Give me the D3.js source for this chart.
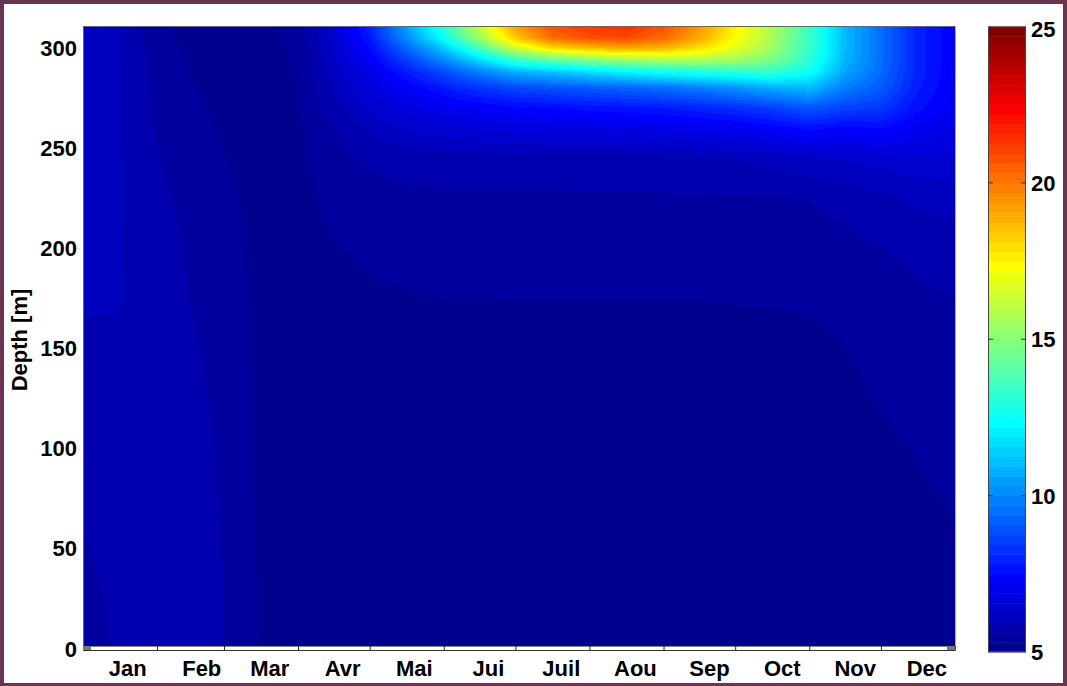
<!DOCTYPE html>
<html>
<head>
<meta charset="utf-8">
<script src="https://cdn.jsdelivr.net/npm/d3@7"></script>
<style>
  html, body { margin: 0; padding: 0; background: #6d3352; }
  svg { display: block; }
  text { font-family: "Liberation Sans", Arial, sans-serif; font-weight: bold; fill: #000; }
</style>
</head>
<body>
<svg width="1067" height="686"></svg>
<script>
// Grid of the temperature field: day of year (columns) x depth (rows, top to bottom)
var days = [0, 15, 31, 45, 59, 75, 90, 105, 120, 135, 151, 166, 181, 196, 212, 228, 243, 258, 273, 288, 304, 319, 334, 349, 365];
var depths = [311, 305, 300, 294, 288, 280, 270, 260, 245, 225, 200, 175, 150, 100, 50, 0];
var temps = [
  [6.2, 5.97, 5.35, 5.2, 5.15, 5.22, 5.4, 6.5, 8.0, 10.5, 13.2, 16.3, 19.2, 20.8, 21.3, 21.5, 20.8, 19.4, 17.6, 15.8, 13.5, 11.0, 9.5, 8.0, 7.2],
  [6.2, 5.97, 5.4, 5.22, 5.16, 5.22, 5.38, 6.4, 7.8, 10.0, 12.5, 15.4, 18.4, 20.2, 20.8, 20.9, 20.3, 19.0, 17.4, 15.7, 13.5, 11.0, 9.5, 8.0, 7.2],
  [6.2, 5.97, 5.45, 5.25, 5.17, 5.21, 5.36, 6.3, 7.5, 9.3, 11.3, 13.8, 16.4, 18.0, 18.7, 19.1, 18.8, 18.0, 16.9, 15.5, 13.4, 11.0, 9.5, 8.0, 7.2],
  [6.2, 5.97, 5.5, 5.28, 5.18, 5.21, 5.34, 6.2, 7.2, 8.5, 10.0, 11.7, 13.4, 14.3, 14.9, 15.5, 15.8, 15.8, 15.5, 14.8, 13.2, 10.9, 9.5, 8.0, 7.2],
  [6.2, 5.97, 5.52, 5.3, 5.2, 5.2, 5.32, 6.1, 6.9, 7.8, 8.8, 9.8, 10.8, 11.2, 11.7, 12.2, 12.6, 12.9, 13.2, 13.3, 12.6, 10.6, 9.4, 8.0, 7.2],
  [6.2, 5.97, 5.55, 5.33, 5.22, 5.2, 5.3, 5.95, 6.6, 7.2, 7.8, 8.3, 8.7, 8.9, 9.1, 9.3, 9.5, 9.8, 10.2, 10.7, 11.0, 9.8, 9.1, 7.9, 7.15],
  [6.2, 5.97, 5.58, 5.38, 5.25, 5.2, 5.28, 5.8, 6.3, 6.7, 7.0, 7.2, 7.4, 7.5, 7.6, 7.7, 7.8, 8.0, 8.2, 8.5, 9.0, 8.6, 8.4, 7.6, 7.05],
  [6.15, 5.97, 5.6, 5.43, 5.28, 5.2, 5.26, 5.62, 6.0, 6.3, 6.5, 6.6, 6.7, 6.75, 6.8, 6.85, 6.9, 7.0, 7.1, 7.3, 7.6, 7.4, 7.5, 7.1, 6.85],
  [6.1, 5.97, 5.64, 5.5, 5.32, 5.2, 5.24, 5.48, 5.68, 5.75, 5.8, 5.82, 5.84, 5.85, 5.86, 5.87, 5.88, 5.9, 5.95, 6.05, 6.2, 6.3, 6.4, 6.5, 6.5],
  [6.05, 5.97, 5.68, 5.56, 5.38, 5.2, 5.22, 5.38, 5.5, 5.55, 5.57, 5.57, 5.57, 5.57, 5.57, 5.57, 5.58, 5.59, 5.6, 5.62, 5.63, 5.73, 5.85, 6.0, 6.05],
  [6.0, 5.97, 5.72, 5.6, 5.45, 5.2, 5.2, 5.3, 5.36, 5.42, 5.45, 5.45, 5.45, 5.45, 5.45, 5.45, 5.45, 5.46, 5.47, 5.48, 5.5, 5.53, 5.62, 5.72, 5.8],
  [5.98, 5.96, 5.75, 5.62, 5.5, 5.2, 5.2, 5.22, 5.27, 5.29, 5.31, 5.31, 5.32, 5.32, 5.32, 5.32, 5.32, 5.32, 5.33, 5.34, 5.36, 5.38, 5.45, 5.55, 5.63],
  [5.85, 5.9, 5.78, 5.66, 5.55, 5.2, 5.2, 5.2, 5.2, 5.18, 5.17, 5.16, 5.16, 5.16, 5.16, 5.16, 5.17, 5.18, 5.19, 5.2, 5.22, 5.31, 5.38, 5.45, 5.5],
  [5.72, 5.8, 5.78, 5.7, 5.6, 5.22, 5.2, 5.2, 5.18, 5.15, 5.15, 5.14, 5.14, 5.14, 5.14, 5.14, 5.14, 5.15, 5.15, 5.15, 5.16, 5.2, 5.27, 5.32, 5.38],
  [5.6, 5.75, 5.76, 5.7, 5.62, 5.25, 5.2, 5.2, 5.18, 5.15, 5.15, 5.14, 5.14, 5.14, 5.14, 5.14, 5.14, 5.15, 5.15, 5.15, 5.15, 5.16, 5.2, 5.24, 5.28],
  [5.45, 5.68, 5.74, 5.68, 5.63, 5.28, 5.22, 5.2, 5.2, 5.18, 5.17, 5.16, 5.16, 5.16, 5.16, 5.16, 5.16, 5.16, 5.16, 5.16, 5.16, 5.16, 5.17, 5.19, 5.21]
];

// Axis labels
var months = ["Jan", "Feb", "Mar", "Avr", "Mai", "Jui", "Juil", "Aou", "Sep", "Oct", "Nov", "Dec"];
var monthLabelDays = [18.5, 49.5, 78, 108.5, 138.5, 169.5, 200, 231, 262, 292.5, 323, 353];
var monthEnds = [31, 59, 90, 120, 151, 181, 212, 243, 273, 304, 334];
var depthTicks = [0, 50, 100, 150, 200, 250, 300];
var tempTicks = [5, 10, 15, 20, 25];

// matlab style jet colormap with m levels
function jet(m) {
  var n = Math.ceil(m / 4), u = [], i;
  for (i = 1; i <= n; i++) u.push(i / n);
  for (i = 1; i < n; i++) u.push(1);
  for (i = n; i >= 1; i--) u.push(i / n);
  var g0 = Math.ceil(n / 2) - (m % 4 === 1 ? 1 : 0);
  var J = d3.range(m).map(function() { return [0, 0, 0]; });
  u.forEach(function(v, k) {
    var g = g0 + k + 1, r = g + n, b = g - n;
    if (g >= 1 && g <= m) J[g - 1][1] = v;
    if (r >= 1 && r <= m) J[r - 1][0] = v;
    if (b >= 1 && b <= m) J[b - 1][2] = v;
  });
  return J.map(function(c) { return d3.rgb(c[0] * 255, c[1] * 255, c[2] * 255).toString(); });
}

function main() {
  var svg = d3.select("svg");

  // white page inside the maroon frame
  svg.append("rect").attr("x", 4).attr("y", 4).attr("width", 1059).attr("height", 679).attr("fill", "#fff");

  var left = 83, right = 955, top = 26, imgBottom = 646, axisY = 650;

  var xScale = d3.scaleLinear().domain([0, 365]).range([left, right]);
  var yScale = d3.scaleLinear().domain([0, 311]).range([649, top]);
  var colorScale = d3.scaleQuantize().domain([5, 25]).range(jet(64));

  // ascending copies for the lookup
  var depthAsc = depths.slice().reverse();
  var tempAsc = temps.slice().reverse();

  function locate(arr, v) {
    var i = d3.bisectRight(arr, v) - 1;
    i = Math.max(0, Math.min(arr.length - 2, i));
    var f = (v - arr[i]) / (arr[i + 1] - arr[i]);
    return [i, Math.max(0, Math.min(1, f))];
  }

  function tempAt(day, depth) {
    var a = locate(days, day), b = locate(depthAsc, depth);
    var r0 = tempAsc[b[0]], r1 = tempAsc[b[0] + 1];
    var t0 = r0[a[0]] + (r0[a[0] + 1] - r0[a[0]]) * a[1];
    var t1 = r1[a[0]] + (r1[a[0] + 1] - r1[a[0]]) * a[1];
    return t0 + (t1 - t0) * b[1];
  }

  // Paint the field into a canvas, one pixel at a time through the scales
  var w = right - left, h = imgBottom - top;
  var canvas = document.createElement("canvas");
  canvas.width = w; canvas.height = h;
  var ctx = canvas.getContext("2d");
  var img = ctx.createImageData(w, h);
  for (var py = 0; py < h; py++) {
    var dep = yScale.invert(top + py + 0.5);
    for (var px = 0; px < w; px++) {
      var c = d3.rgb(colorScale(tempAt(xScale.invert(left + px + 0.5), dep)));
      var k = (py * w + px) * 4;
      img.data[k] = c.r; img.data[k + 1] = c.g; img.data[k + 2] = c.b; img.data[k + 3] = 255;
    }
  }
  ctx.putImageData(img, 0, 0);

  svg.append("image")
     .attr("x", left).attr("y", top)
     .attr("width", w).attr("height", h)
     .attr("href", canvas.toDataURL());

  // frame lines round the image
  svg.append("line").attr("x1", left).attr("x2", right).attr("y1", top + 0.5).attr("y2", top + 0.5).attr("stroke", "#666");
  svg.append("line").attr("x1", left + 0.5).attr("x2", left + 0.5).attr("y1", top).attr("y2", imgBottom).attr("stroke", "#666");
  svg.append("line").attr("x1", right + 0.5).attr("x2", right + 0.5).attr("y1", top).attr("y2", imgBottom).attr("stroke", "#aaa");
  svg.append("line").attr("x1", left).attr("x2", right).attr("y1", imgBottom + 0.5).attr("y2", imgBottom + 0.5).attr("stroke", "#888");

  // X axis: line and month boundary ticks
  svg.append("g")
     .attr("transform", "translate(0," + axisY + ")")
     .call(d3.axisBottom(xScale).tickValues(monthEnds).tickSize(-4).tickFormat(""))
     .call(function(g) { g.select(".domain").attr("stroke", "#333"); g.selectAll(".tick line").attr("stroke", "#222"); });

  // small y ticks at zero on both sides
  svg.append("rect").attr("x", left).attr("y", imgBottom).attr("width", 8).attr("height", 4).attr("fill", "#777");
  svg.append("rect").attr("x", right - 8).attr("y", imgBottom).attr("width", 8).attr("height", 4).attr("fill", "#777");

  // month names
  svg.append("g")
     .attr("transform", "translate(0," + axisY + ")")
     .call(d3.axisBottom(xScale).tickValues(monthLabelDays).tickSize(0).tickPadding(10)
       .tickFormat(function(d, i) { return months[i]; }))
     .call(function(g) { g.select(".domain").remove(); })
     .selectAll("text")
       .attr("font-size", "22px");

  // Y axis labels
  svg.append("g")
     .attr("transform", "translate(" + left + ",0)")
     .call(d3.axisLeft(yScale).tickValues(depthTicks).tickSize(0).tickPadding(6))
     .call(function(g) { g.select(".domain").remove(); })
     .selectAll("text")
       .attr("font-size", "22px");

  svg.append("text")
     .attr("transform", "translate(27,340) rotate(-90)")
     .attr("text-anchor", "middle")
     .attr("font-size", "22px")
     .text("Depth [m]");

  // Colorbar
  var cbLeft = 988, cbWidth = 38;
  var cbScale = d3.scaleLinear().domain([5, 25]).range([652, 26.5]);
  var levels = colorScale.range();
  var step = 20 / levels.length;

  svg.append("g").selectAll("rect")
     .data(levels)
     .enter().append("rect")
     .attr("x", cbLeft)
     .attr("y", function(d, i) { return cbScale(5 + (i + 1) * step); })
     .attr("width", cbWidth)
     .attr("height", function(d, i) { return cbScale(5 + i * step) - cbScale(5 + (i + 1) * step) + 0.5; })
     .attr("fill", function(d) { return d; });

  svg.append("rect")
     .attr("x", cbLeft + 0.5).attr("y", cbScale(25) + 0.5)
     .attr("width", cbWidth - 1).attr("height", cbScale(5) - cbScale(25) - 1)
     .attr("fill", "none").attr("stroke", "#444");

  // tick dashes on both inner edges of the colorbar
  var inner = tempTicks.slice(1, -1);
  svg.append("g").selectAll("line.l")
     .data(inner).enter().append("line")
     .attr("x1", cbLeft).attr("x2", cbLeft + 5)
     .attr("y1", function(d) { return cbScale(d); }).attr("y2", function(d) { return cbScale(d); })
     .attr("stroke", "#333");
  svg.append("g").selectAll("line.r")
     .data(inner).enter().append("line")
     .attr("x1", cbLeft + cbWidth - 5).attr("x2", cbLeft + cbWidth)
     .attr("y1", function(d) { return cbScale(d); }).attr("y2", function(d) { return cbScale(d); })
     .attr("stroke", "#333");

  svg.append("g").selectAll("text")
     .data(tempTicks).enter().append("text")
     .attr("x", 1031)
     .attr("y", function(d) { return cbScale(d) + (d === 25 ? 3 : 0); })
     .attr("dy", "0.36em")
     .attr("font-size", "22px")
     .text(function(d) { return d; });
}

main();
</script>
</body>
</html>
